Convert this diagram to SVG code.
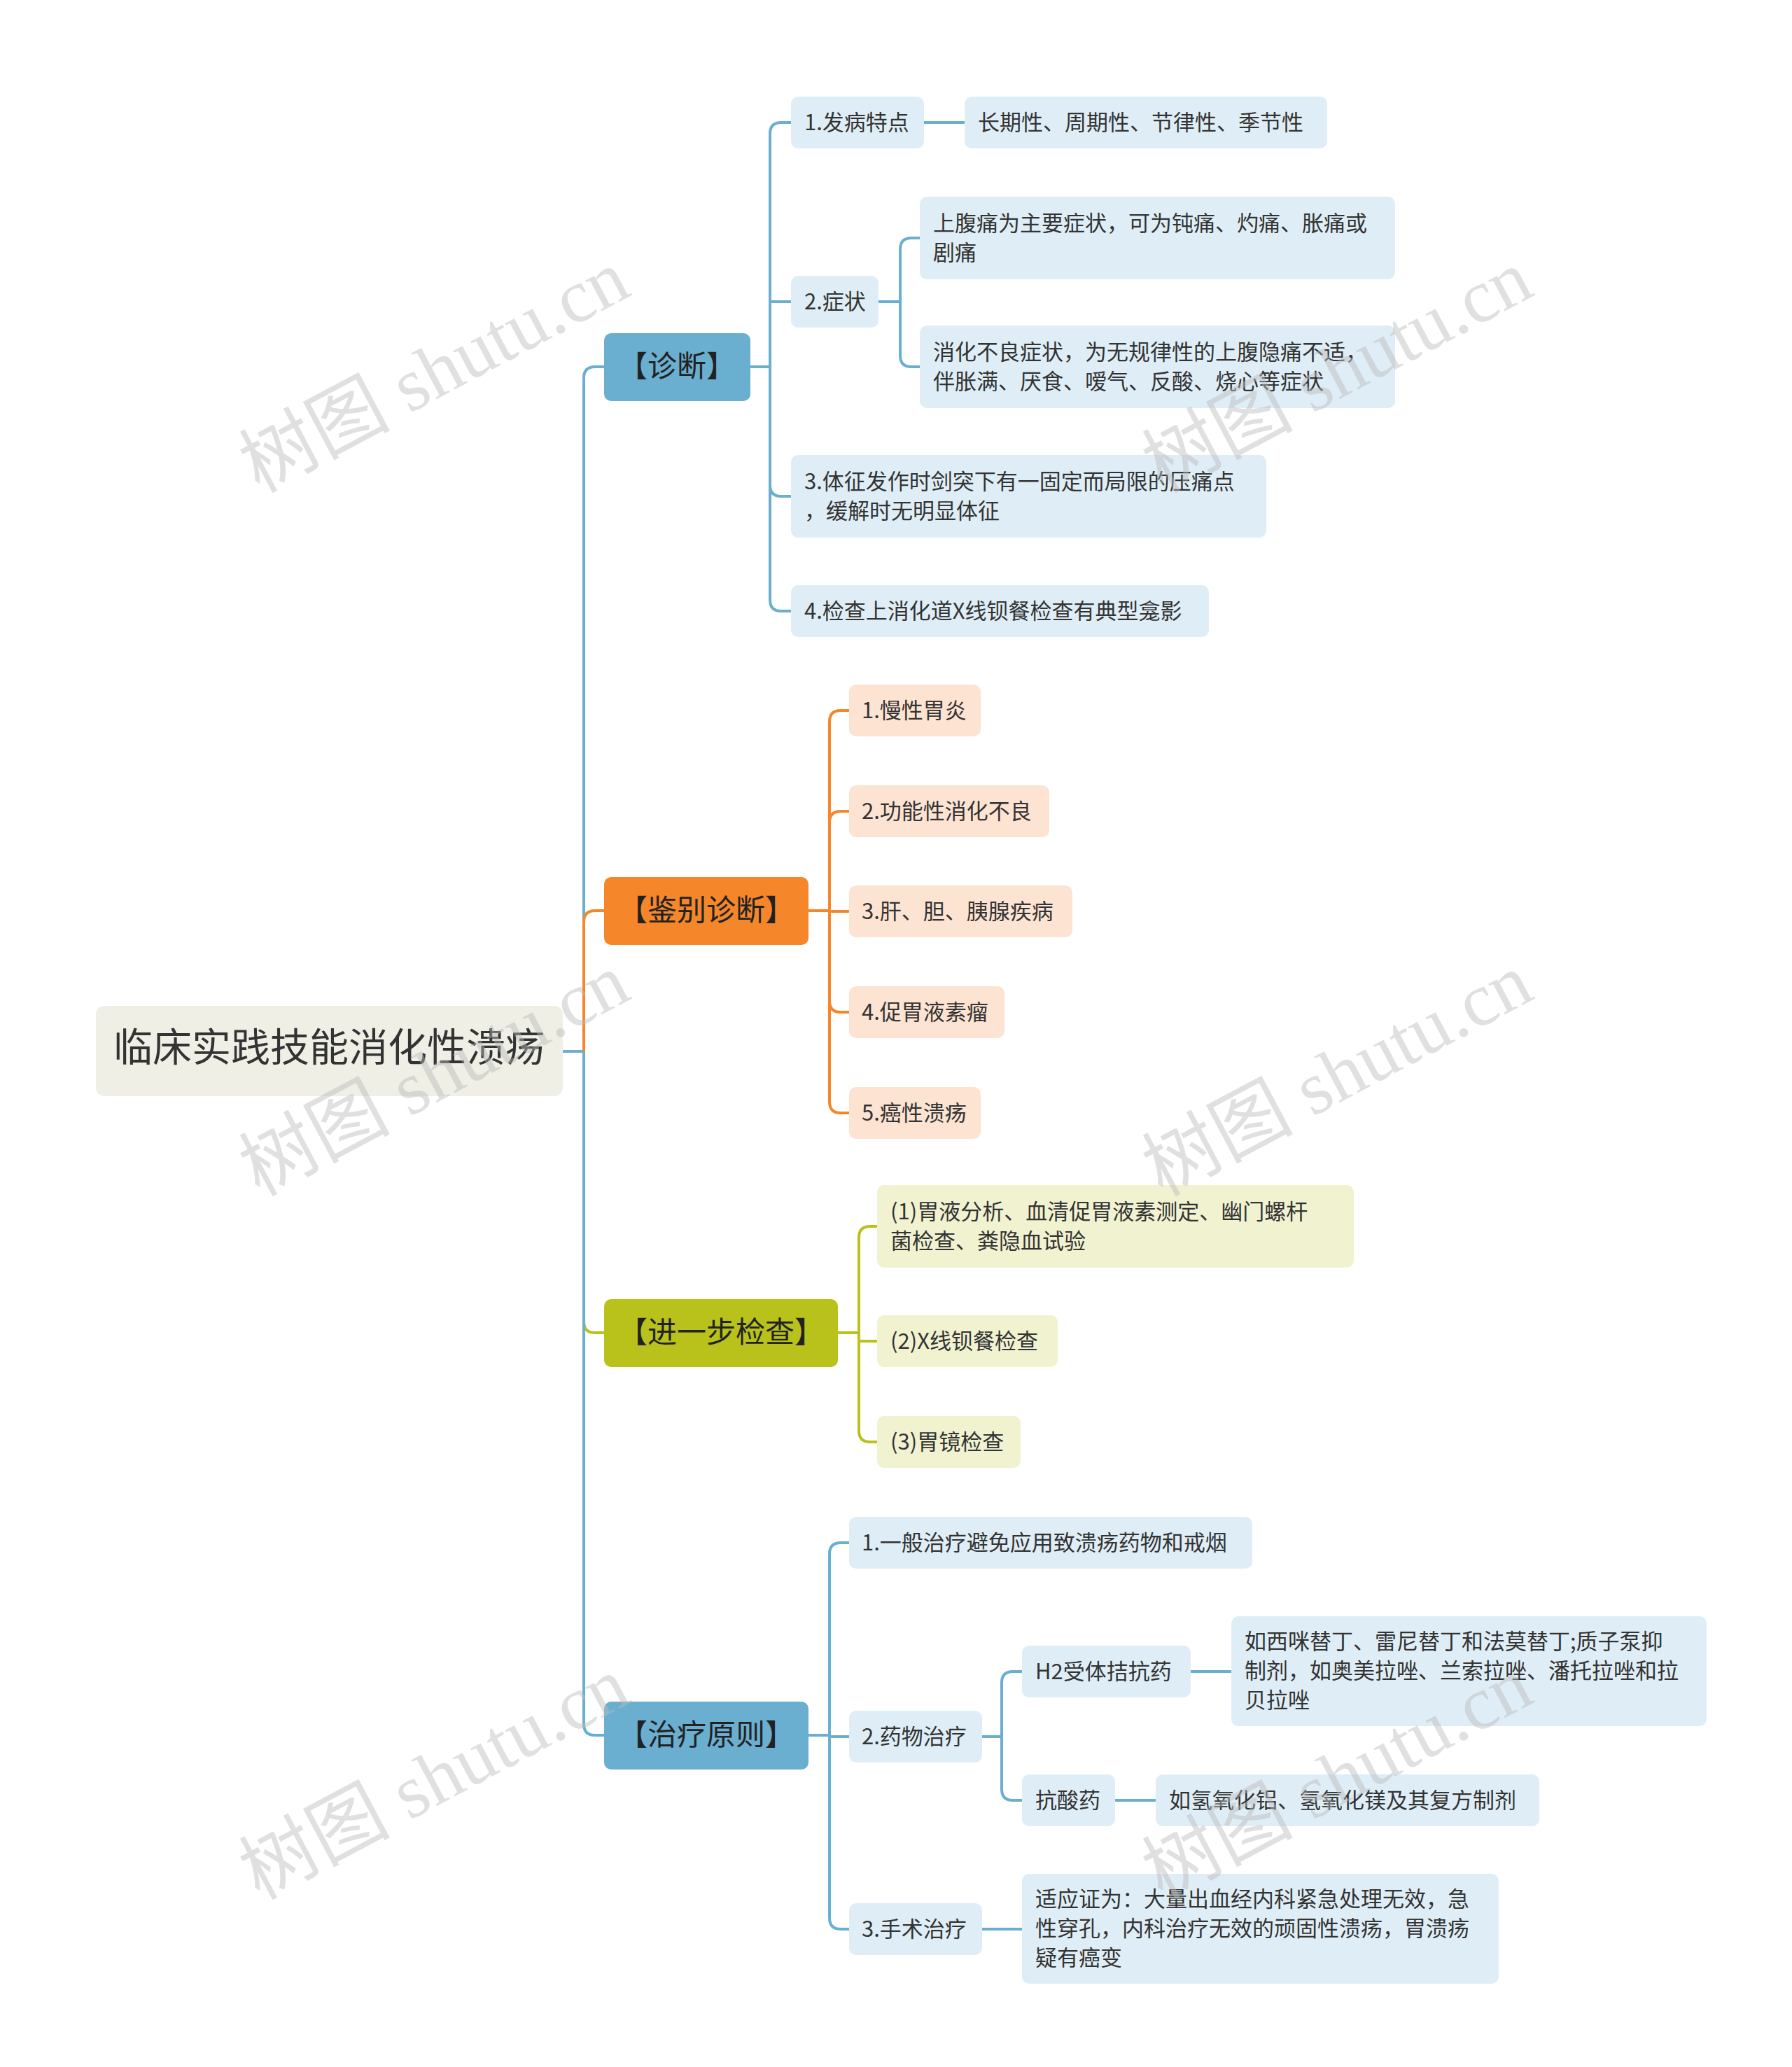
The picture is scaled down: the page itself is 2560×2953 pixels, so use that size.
<svg xmlns="http://www.w3.org/2000/svg" width="2560" height="2953" viewBox="0 0 2560 2953">
<style>
text{font-family:"Noto Sans CJK SC","Noto Sans",sans-serif;}
.t{font-size:31px;fill:#333;}
.l1{font-size:42px;fill:#222;}
.b{fill:#dfeef6;}
.o{fill:#fde3d2;}
.g{fill:#f0f2d0;}
.c{fill:none;stroke-width:4;}
.wm{font-size:108px;fill:#bbb;opacity:0.45;font-family:"Liberation Serif","Noto Sans CJK SC",serif;}
</style>
<rect width="2560" height="2953" fill="#fff"/>
<g id="connectors">
<path class="c" stroke="#6aafd0" d="M804 1502H834V540Q834 524 850 524H863"/>
<path class="c" stroke="#f5872a" d="M834 1502V1317Q834 1301 850 1301H863"/>
<path class="c" stroke="#b8c21a" d="M834 1502V1888Q834 1904 850 1904H863"/>
<path class="c" stroke="#6aafd0" d="M834 1502V2463Q834 2479 850 2479H863"/>
<g stroke="#6aafd0" class="c">
<path d="M1072 524H1100"/>
<path d="M1100 524V191Q1100 175 1116 175H1130"/>
<path d="M1100 524V431H1130"/>
<path d="M1100 524V693Q1100 709 1116 709H1130"/>
<path d="M1100 524V857Q1100 873 1116 873H1130"/>
<path d="M1320 175H1378"/>
<path d="M1255 431H1286V356Q1286 340 1302 340H1314"/>
<path d="M1286 431V508Q1286 524 1302 524H1314"/>
</g>
<g stroke="#f5872a" class="c">
<path d="M1155 1301H1185"/>
<path d="M1185 1301V1031Q1185 1015 1201 1015H1213"/>
<path d="M1185 1301V1175Q1185 1159 1201 1159H1213"/>
<path d="M1185 1301V1302H1213"/>
<path d="M1185 1301V1430Q1185 1446 1201 1446H1213"/>
<path d="M1185 1301V1574Q1185 1590 1201 1590H1213"/>
</g>
<g stroke="#b8c21a" class="c">
<path d="M1197 1904H1227"/>
<path d="M1227 1904V1768Q1227 1752 1243 1752H1253"/>
<path d="M1227 1904V1916H1253"/>
<path d="M1227 1904V2044Q1227 2060 1243 2060H1253"/>
</g>
<g stroke="#6aafd0" class="c">
<path d="M1155 2479H1185"/>
<path d="M1185 2479V2220Q1185 2204 1201 2204H1213"/>
<path d="M1185 2479V2481H1213"/>
<path d="M1185 2479V2740Q1185 2756 1201 2756H1213"/>
<path d="M1403 2481H1431V2404Q1431 2388 1447 2388H1460"/>
<path d="M1431 2481V2556Q1431 2572 1447 2572H1460"/>
<path d="M1701 2388H1759"/>
<path d="M1593 2572H1651"/>
<path d="M1403 2756H1460"/>
</g>
</g>
<g id="root"><rect x="137" y="1437" width="667" height="129" rx="12" fill="#efefe6"/><text x="470" y="1516" text-anchor="middle" style="font-size:56px;fill:#333">临床实践技能消化性溃疡</text></g>
<g id="n-zd"><rect x="863" y="476" width="209" height="97" rx="10" fill="#6aafd0"/><text x="967" y="538" text-anchor="middle" class="l1">【诊断】</text></g>
<g id="n-jb"><rect x="863" y="1253" width="292" height="97" rx="10" fill="#f5872a"/><text x="1009" y="1315" text-anchor="middle" class="l1">【鉴别诊断】</text></g>
<g id="n-jy"><rect x="863" y="1856" width="334" height="97" rx="10" fill="#b8c21a"/><text x="1030" y="1918" text-anchor="middle" class="l1">【进一步检查】</text></g>
<g id="n-zl"><rect x="863" y="2431" width="292" height="97" rx="10" fill="#6aafd0"/><text x="1009" y="2493" text-anchor="middle" class="l1">【治疗原则】</text></g>

<g id="a1"><rect class="b" x="1130" y="138" width="190" height="74" rx="10"/><text class="t" x="1149" y="186">1.发病特点</text></g>
<g id="a1a"><rect class="b" x="1378" y="138" width="518" height="74" rx="10"/><text class="t" x="1397" y="186">长期性、周期性、节律性、季节性</text></g>
<g id="a2"><rect class="b" x="1130" y="394" width="125" height="74" rx="10"/><text class="t" x="1149" y="442">2.症状</text></g>
<g id="a2a"><rect class="b" x="1314" y="281" width="679" height="118" rx="10"/><text class="t" x="1333" y="330">上腹痛为主要症状，可为钝痛、灼痛、胀痛或</text><text class="t" x="1333" y="372">剧痛</text></g>
<g id="a2b"><rect class="b" x="1314" y="465" width="679" height="118" rx="10"/><text class="t" x="1333" y="514">消化不良症状，为无规律性的上腹隐痛不适，</text><text class="t" x="1333" y="556">伴胀满、厌食、嗳气、反酸、烧心等症状</text></g>
<g id="a3"><rect class="b" x="1130" y="650" width="679" height="118" rx="10"/><text class="t" x="1149" y="699">3.体征发作时剑突下有一固定而局限的压痛点</text><text class="t" x="1149" y="741">，缓解时无明显体征</text></g>
<g id="a4"><rect class="b" x="1130" y="836" width="597" height="74" rx="10"/><text class="t" x="1149" y="884">4.检查上消化道X线钡餐检查有典型龛影</text></g>

<g id="b1"><rect class="o" x="1213" y="978" width="188" height="74" rx="10"/><text class="t" x="1231" y="1026">1.慢性胃炎</text></g>
<g id="b2"><rect class="o" x="1213" y="1122" width="286" height="74" rx="10"/><text class="t" x="1231" y="1170">2.功能性消化不良</text></g>
<g id="b3"><rect class="o" x="1213" y="1265" width="319" height="74" rx="10"/><text class="t" x="1231" y="1313">3.肝、胆、胰腺疾病</text></g>
<g id="b4"><rect class="o" x="1213" y="1409" width="222" height="74" rx="10"/><text class="t" x="1231" y="1457">4.促胃液素瘤</text></g>
<g id="b5"><rect class="o" x="1213" y="1553" width="188" height="74" rx="10"/><text class="t" x="1231" y="1601">5.癌性溃疡</text></g>

<g id="c1"><rect class="g" x="1253" y="1693" width="681" height="118" rx="10"/><text class="t" x="1272" y="1742">(1)胃液分析、血清促胃液素测定、幽门螺杆</text><text class="t" x="1272" y="1784">菌检查、粪隐血试验</text></g>
<g id="c2"><rect class="g" x="1253" y="1879" width="258" height="74" rx="10"/><text class="t" x="1272" y="1927">(2)X线钡餐检查</text></g>
<g id="c3"><rect class="g" x="1253" y="2023" width="205" height="74" rx="10"/><text class="t" x="1272" y="2071">(3)胃镜检查</text></g>

<g id="d1"><rect class="b" x="1213" y="2167" width="576" height="74" rx="10"/><text class="t" x="1231" y="2215">1.一般治疗避免应用致溃疡药物和戒烟</text></g>
<g id="d2"><rect class="b" x="1213" y="2444" width="190" height="74" rx="10"/><text class="t" x="1231" y="2492">2.药物治疗</text></g>
<g id="d2a"><rect class="b" x="1460" y="2351" width="241" height="74" rx="10"/><text class="t" x="1479" y="2399">H2受体拮抗药</text></g>
<g id="d2a1"><rect class="b" x="1759" y="2309" width="679" height="157" rx="10"/><text class="t" x="1778" y="2356">如西咪替丁、雷尼替丁和法莫替丁;质子泵抑</text><text class="t" x="1778" y="2398">制剂，如奥美拉唑、兰索拉唑、潘托拉唑和拉</text><text class="t" x="1778" y="2440">贝拉唑</text></g>
<g id="d2b"><rect class="b" x="1460" y="2535" width="133" height="74" rx="10"/><text class="t" x="1479" y="2583">抗酸药</text></g>
<g id="d2b1"><rect class="b" x="1651" y="2535" width="548" height="74" rx="10"/><text class="t" x="1670" y="2583">如氢氧化铝、氢氧化镁及其复方制剂</text></g>
<g id="d3"><rect class="b" x="1213" y="2719" width="190" height="74" rx="10"/><text class="t" x="1231" y="2767">3.手术治疗</text></g>
<g id="d3a"><rect class="b" x="1460" y="2677" width="681" height="157" rx="10"/><text class="t" x="1479" y="2724">适应证为：大量出血经内科紧急处理无效，急</text><text class="t" x="1479" y="2766">性穿孔，内科治疗无效的顽固性溃疡，胃溃疡</text><text class="t" x="1479" y="2808">疑有癌变</text></g>

<g id="watermarks">
<text class="wm" transform="translate(370 705) rotate(-28)">树图 shutu.cn</text>
<text class="wm" transform="translate(1660 705) rotate(-28)">树图 shutu.cn</text>
<text class="wm" transform="translate(370 1710) rotate(-28)">树图 shutu.cn</text>
<text class="wm" transform="translate(1660 1710) rotate(-28)">树图 shutu.cn</text>
<text class="wm" transform="translate(370 2715) rotate(-28)">树图 shutu.cn</text>
<text class="wm" transform="translate(1660 2715) rotate(-28)">树图 shutu.cn</text>
</g>
</svg>
